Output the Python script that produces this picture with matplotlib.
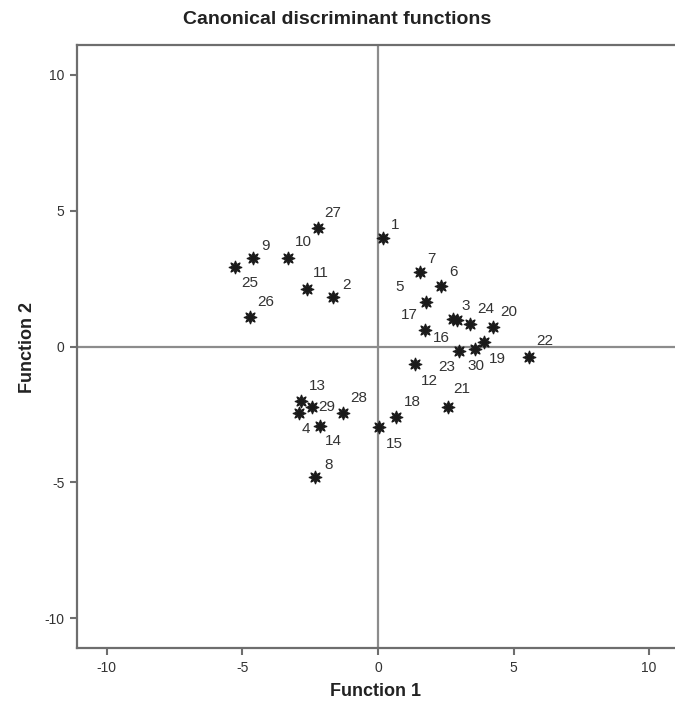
import numpy as np
import matplotlib
matplotlib.use("Agg")
import matplotlib.pyplot as plt

plt.rcParams['font.family'] = ['Liberation Sans', 'DejaVu Sans']
plt.rcParams['axes.unicode_minus'] = False

# case numbers and discriminant scores (function 1, function 2)
cases = [1, 2, 3, 4, 5, 6, 7, 8, 9, 10,
         11, 12, 13, 14, 15, 16, 17, 18, 19, 20,
         21, 22, 23, 24, 25, 26, 27, 28, 29, 30]
func1 = [0.18, -1.65, 2.90, -2.90, 1.76, 2.32, 1.54, -2.32, -4.60, -3.31,
         -2.61, 1.36, -2.83, -2.13, 0.04, 2.76, 1.73, 0.66, 3.90, 4.23,
         2.57, 5.55, 2.98, 3.38, -5.29, -4.71, -2.21, -1.29, -2.43, 3.57]
func2 = [4.01, 1.84, 0.96, -2.46, 1.62, 2.24, 2.76, -4.82, 3.27, 3.24,
         2.13, -0.66, -2.02, -2.94, -2.98, 1.03, 0.59, -2.61, 0.15, 0.70,
         -2.24, -0.40, -0.18, 0.81, 2.94, 1.07, 4.38, -2.43, -2.21, -0.11]

# label offsets from the point, in pixels (dx right, dy down)
lab_off = {1: (12, -13), 2: (13, -12), 3: (9, -14), 4: (7, 16), 5: (-26, -15),
           6: (13, -14), 7: (12, -13), 8: (14, -12), 9: (12, -12), 10: (15, -16),
           11: (14, -16), 12: (14, 17), 13: (16, -15), 14: (13, 15), 15: (15, 17),
           16: (-11, 19), 17: (-16, -15), 18: (16, -15), 19: (14, 17), 20: (16, -15),
           21: (14, -18), 22: (16, -16), 23: (-12, 16), 24: (16, -15), 25: (15, 16),
           26: (15, -15), 27: (15, -15), 28: (16, -15), 29: (15, 0), 30: (1, 17)}

fig = plt.figure(figsize=(6.75, 7.13), dpi=100)
ax = fig.add_axes([77/675, 1-648/713, (679-77)/675, (648-45)/713])

gray = '#6e6e6e'
ax.axhline(0, color='#8c8c8c', lw=1.6, zorder=1)
ax.axvline(0, color='#8c8c8c', lw=1.6, zorder=1)

ax.plot(func1, func2, linestyle='none', marker=(8, 1, 0), markersize=9.5,
        color='#1a1a1a', markeredgewidth=0.8, zorder=3)

px = 72/100.0
for c, x, y in zip(cases, func1, func2):
    dx, dy = lab_off[c]
    ax.annotate(str(c), (x, y), xytext=(dx*px, -dy*px), textcoords='offset points',
                ha='center', va='center', fontsize=11, color='#333333', zorder=4)

ax.set_xlim(-11.1, 11.1)
ax.set_ylim(-11.1, 11.1)
ax.set_xticks([-10, -5, 0, 5, 10])
ax.set_yticks([-10, -5, 0, 5, 10])
ax.spines['right'].set_visible(False)
for s in ['left', 'bottom', 'top']:
    ax.spines[s].set_color(gray)
    ax.spines[s].set_linewidth(1.6)
ax.tick_params(direction='out', length=5, width=1.5, color=gray,
               labelsize=10, labelcolor='#333333', pad=4)

fig.text(0.5, 1-20/713, 'Canonical discriminant functions', ha='center', va='center',
         fontsize=14, fontweight='bold', color='#222222')
fig.text(376/675, 1-692/713, 'Function 1', ha='center', va='center',
         fontsize=13, fontweight='bold', color='#222222')
fig.text(28/675, 1-347/713, 'Function 2', ha='center', va='center', rotation=90,
         fontsize=13, fontweight='bold', color='#222222')

fig.savefig('out.png', dpi=100)
